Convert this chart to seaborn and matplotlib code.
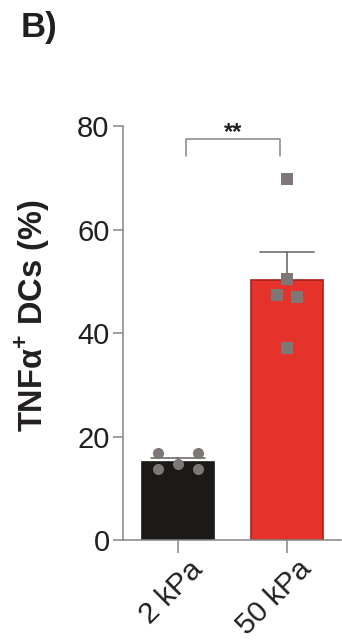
import numpy as np
import pandas as pd
import matplotlib
matplotlib.use("Agg")
import matplotlib.pyplot as plt
from matplotlib.transforms import ScaledTranslation
import seaborn as sns

# Substrate stiffness groups and per-replicate TNFa+ DC percentages
groups = ["2 kPa", "50 kPa"]
values_2kpa = [16.8, 16.8, 14.7, 13.7, 13.7]
values_50kpa = [69.8, 50.4, 47.3, 47.0, 37.1]
yticks = [0, 20, 40, 60, 80]

df = pd.DataFrame({
    "group": [groups[0]] * len(values_2kpa) + [groups[1]] * len(values_50kpa),
    "value": values_2kpa + values_50kpa,
})


def row_offsets(values, spacing, tol=0.5):
    """Spread tied values side by side, symmetric about the category centre."""
    vals = np.asarray(values, dtype=float)
    order = np.argsort(-vals, kind="stable")
    offsets = np.zeros(len(vals))
    rows, current = [], [order[0]]
    for idx in order[1:]:
        if abs(vals[idx] - vals[current[0]]) <= tol:
            current.append(idx)
        else:
            rows.append(current)
            current = [idx]
    rows.append(current)
    for row in rows:
        n = len(row)
        for k, idx in enumerate(row):
            offsets[idx] = (k - (n - 1) / 2) * spacing
    return offsets


sns.set_theme(style="ticks")
plt.rcParams["font.family"] = ["Liberation Sans", "DejaVu Sans"]
plt.rcParams["mathtext.fontset"] = "custom"
plt.rcParams["mathtext.rm"] = "Liberation Sans"
plt.rcParams["mathtext.bf"] = "Liberation Sans:bold"

text_color = "#231f20"
axis_grey = "#858585"
point_grey = "#7d7876"

fig = plt.figure(figsize=(3.42, 6.4), dpi=100)
ax = fig.add_axes([0.361, 0.156, 0.6375, 0.647])

sns.barplot(
    data=df, x="group", y="value", order=groups,
    palette=["#1b1a17", "#e5322b"], hue="group", legend=False, saturation=1,
    errorbar="se", capsize=0.5, width=0.66,
    err_kws={"color": "#6e6e6e", "linewidth": 1.2, "zorder": 0.5},
    ax=ax,
)
for patch, ec in zip(ax.patches, ["#1b1a17", "#a8201c"]):
    patch.set_edgecolor(ec)
    patch.set_linewidth(1.2)
    patch.set_zorder(1)

# individual replicates on top of each bar
point_styles = {groups[0]: ("o", 8.0, 0.36), groups[1]: ("s", 8.0, 0.18)}
for i, (g, vals) in enumerate(zip(groups, [values_2kpa, values_50kpa])):
    marker, msize, spacing = point_styles[g]
    xs = i + row_offsets(vals, spacing)
    ax.plot(xs, vals, linestyle="none", marker=marker, markersize=msize,
            markerfacecolor=point_grey, markeredgewidth=0, zorder=3)

ax.set_ylim(0, 80)
ax.set_xlim(-0.5, 1.5)
ax.set_yticks(yticks)
ax.set_yticklabels([str(t) for t in yticks], fontsize=21, color=text_color)
ax.set_xticks([0, 1])
ax.set_xticklabels([])
ax.set_xlabel("")

# rotated group labels hanging below the ticks
label_tf = ax.get_xaxis_transform() + ScaledTranslation(10 / 100, -15 / 100, fig.dpi_scale_trans)
for i, g in enumerate(groups):
    ax.text(i, 0, g, transform=label_tf, fontsize=21.5, color=text_color,
            rotation=45, rotation_mode="anchor", ha="right", va="top",
            clip_on=False)

ax.set_ylabel(r"TNFα$^{\mathbf{+}}$ DCs (%)", fontsize=23.5, fontweight="bold",
              color=text_color)
ax.yaxis.set_label_coords(-0.33, 0.541)

for side in ["top", "right"]:
    ax.spines[side].set_visible(False)
for side in ["left", "bottom"]:
    ax.spines[side].set_color(axis_grey)
    ax.spines[side].set_linewidth(1.1)
ax.tick_params(axis="both", colors=axis_grey, width=1.1, labelcolor=text_color)
ax.tick_params(axis="y", length=7, pad=3)
ax.tick_params(axis="x", length=9, pad=4)

# significance bracket
ax.plot([0.07, 0.07, 0.94, 0.94], [74.2, 77.5, 77.5, 74.2], color=axis_grey,
        linewidth=1.1, clip_on=False)
ax.text(0.505, 78.7, "**", ha="center", va="center", fontsize=17,
        fontweight="bold", color=text_color, clip_on=False)

fig.text(0.06, 0.942, "B)", fontsize=25, fontweight="bold", color=text_color,
         va="baseline")

fig.savefig("out.png", dpi=100, facecolor="white")
